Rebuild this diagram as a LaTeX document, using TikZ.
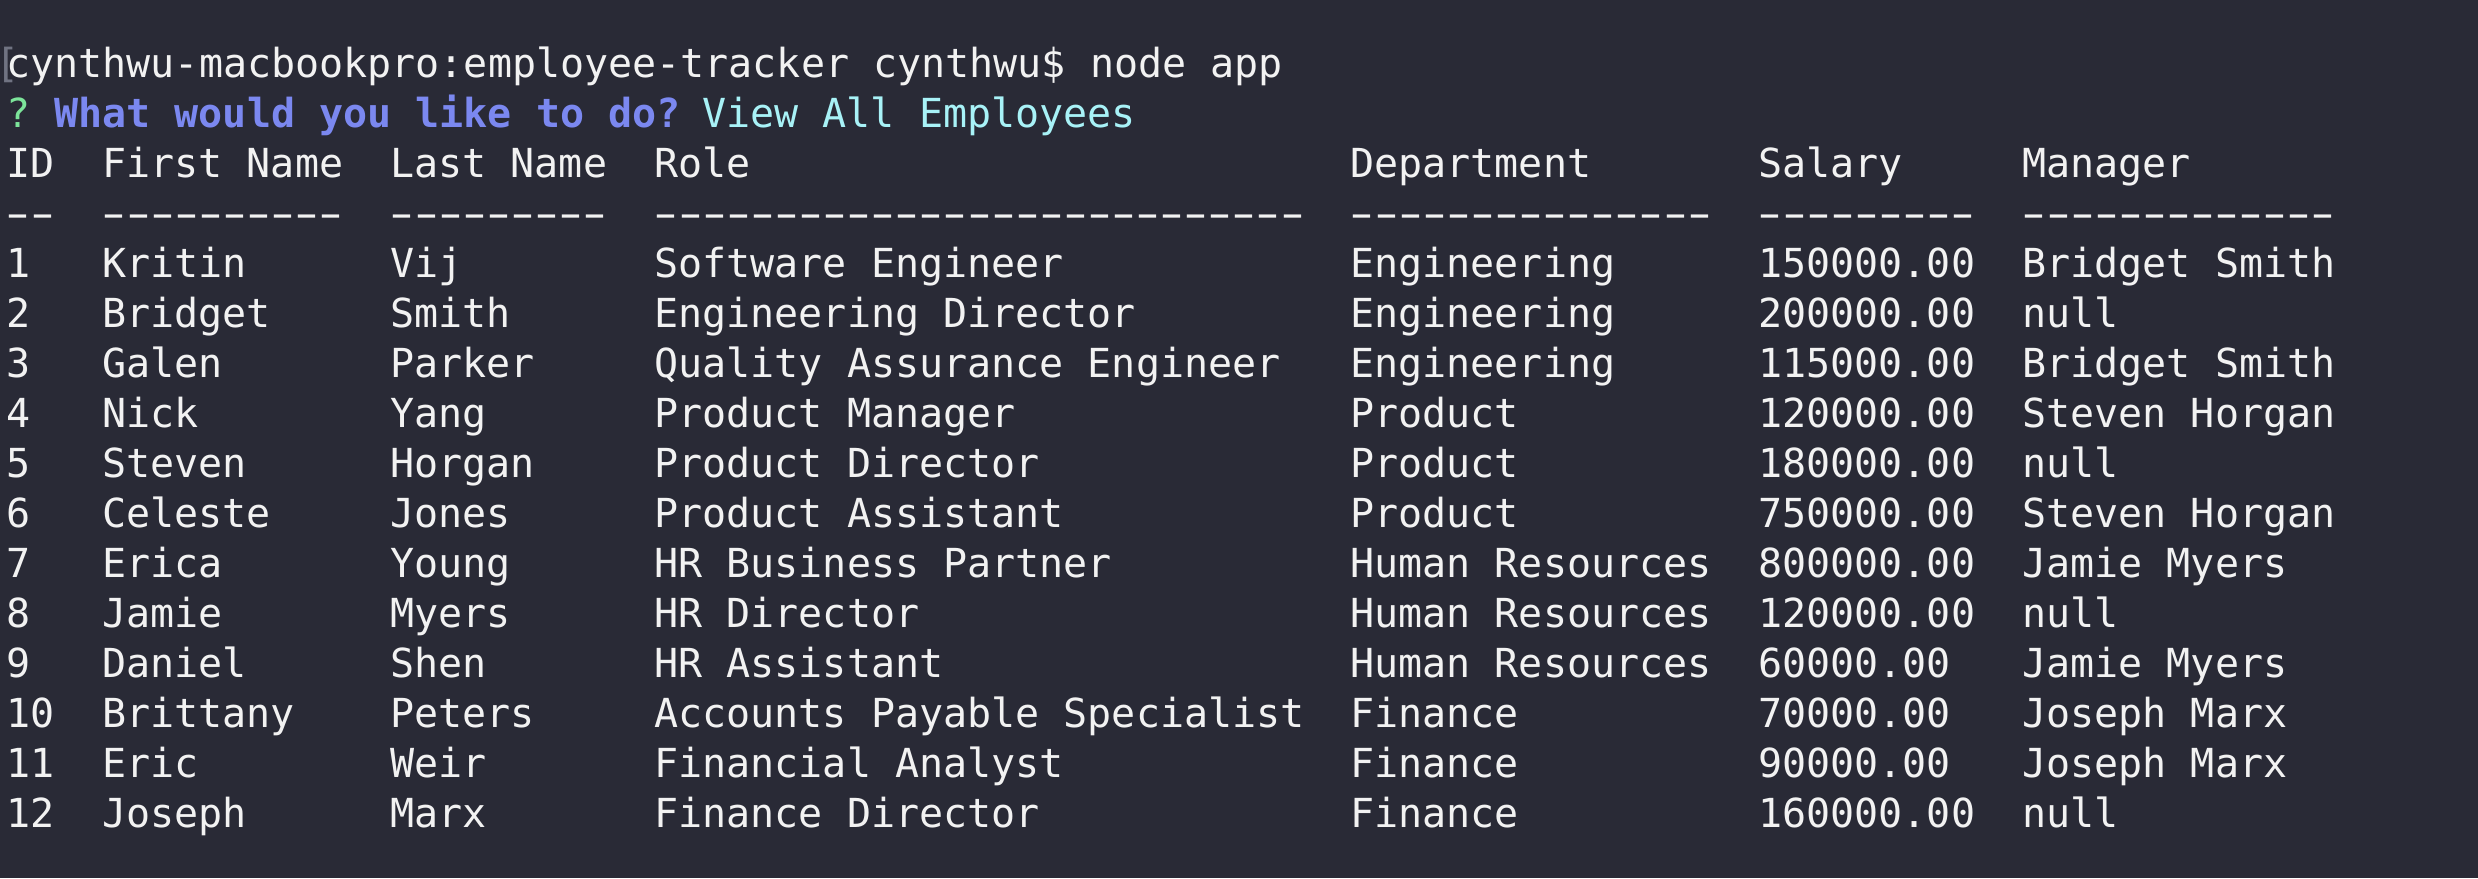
\documentclass[tikz,border=0pt]{standalone}
\usepackage{fontspec}
\usepackage{graphicx}
\setmonofont{DejaVu Sans Mono}
\usetikzlibrary{positioning}
\definecolor{termbg}{RGB}{41,42,54}
\definecolor{termfg}{RGB}{242,242,242}
\definecolor{promptgreen}{RGB}{124,228,154}
\definecolor{promptblue}{RGB}{123,136,240}
\definecolor{answercyan}{RGB}{168,242,247}
\definecolor{cursorgray}{RGB}{112,115,130}
\newcommand{\termfont}{\ttfamily\fontsize{20pt}{25pt}\selectfont}
% a run of hyphens, drawn as wide as the terminal draws them
\newcommand{\dashrun}[1]{\foreach \k in {1,...,#1}{\makebox[0.602em][c]{\scalebox{1.7}[1]{-}}}}
\tikzset{
  cell/.style={anchor=base west, inner sep=0pt, text=termfg, font=\termfont},
}

\begin{document}
\begin{tikzpicture}
    % Window
    \useasboundingbox (0,0) rectangle (1239pt,-439pt);
    \fill[termbg] (0,0) rectangle (1239pt,-439pt);

    \begin{scope}[shift={(3pt,-38.5pt)}, x=12pt, y=-25pt]
        % Command line
        \node[cell, text=cursorgray] (cursor) at (-0.45,0) {[};
        \node[cell] (cmd) at (0,0) {cynthwu-macbookpro:employee-tracker cynthwu\$ node app};

        % Prompt
        \node[cell, text=promptgreen] (mark) at (0,1) {?};
        \node[cell, text=promptblue, font=\termfont\bfseries] (question) at (2,1) {What would you like to do?};
        \node[cell, text=answercyan] (answer) at (29,1) {View All Employees};

        % Header
        \node[cell] (h-id) at (0,2) {ID};
        \node[cell] (h-first) at (4,2) {First Name};
        \node[cell] (h-last) at (16,2) {Last Name};
        \node[cell] (h-role) at (27,2) {Role};
        \node[cell] (h-dept) at (56,2) {Department};
        \node[cell] (h-pay) at (73,2) {Salary};
        \node[cell] (h-boss) at (84,2) {Manager};

        \node[cell] (d-id) at (0,3) {\dashrun{2}};
        \node[cell] (d-first) at (4,3) {\dashrun{10}};
        \node[cell] (d-last) at (16,3) {\dashrun{9}};
        \node[cell] (d-role) at (27,3) {\dashrun{27}};
        \node[cell] (d-dept) at (56,3) {\dashrun{15}};
        \node[cell] (d-pay) at (73,3) {\dashrun{9}};
        \node[cell] (d-boss) at (84,3) {\dashrun{13}};

        % Rows
        \foreach \id/\first/\last/\role/\dept/\pay/\boss in {
            1/Kritin/Vij/Software Engineer/Engineering/150000.00/Bridget Smith,
            2/Bridget/Smith/Engineering Director/Engineering/200000.00/null,
            3/Galen/Parker/Quality Assurance Engineer/Engineering/115000.00/Bridget Smith,
            4/Nick/Yang/Product Manager/Product/120000.00/Steven Horgan,
            5/Steven/Horgan/Product Director/Product/180000.00/null,
            6/Celeste/Jones/Product Assistant/Product/750000.00/Steven Horgan,
            7/Erica/Young/HR Business Partner/Human Resources/800000.00/Jamie Myers,
            8/Jamie/Myers/HR Director/Human Resources/120000.00/null,
            9/Daniel/Shen/HR Assistant/Human Resources/60000.00/Jamie Myers,
            10/Brittany/Peters/Accounts Payable Specialist/Finance/70000.00/Joseph Marx,
            11/Eric/Weir/Financial Analyst/Finance/90000.00/Joseph Marx,
            12/Joseph/Marx/Finance Director/Finance/160000.00/null}
        {
            \node[cell] (id-\id) at (0,\id+3) {\id};
            \node[cell] (first-\id) at (4,\id+3) {\first};
            \node[cell] (last-\id) at (16,\id+3) {\last};
            \node[cell] (role-\id) at (27,\id+3) {\role};
            \node[cell] (dept-\id) at (56,\id+3) {\dept};
            \node[cell] (pay-\id) at (73,\id+3) {\pay};
            \node[cell] (boss-\id) at (84,\id+3) {\boss};
        }
    \end{scope}
\end{tikzpicture}
\end{document}
